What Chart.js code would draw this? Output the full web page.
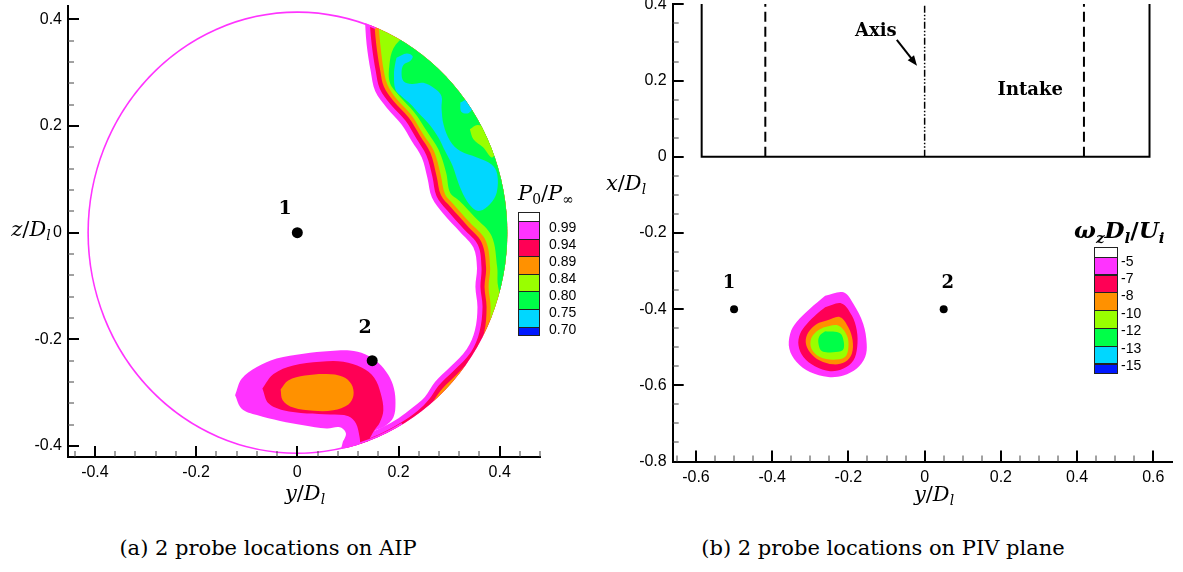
<!DOCTYPE html>
<html><head><meta charset="utf-8">
<script src="https://cdn.jsdelivr.net/npm/chart.js@4.4.1/dist/chart.umd.min.js"></script>
<style>
html,body{margin:0;padding:0;background:#fff}
body{width:1183px;height:572px;position:relative;overflow:hidden}
canvas{position:absolute;top:0}
.t{position:absolute;white-space:nowrap;color:#000;line-height:1}
.c{transform:translate(-50%,-50%)}
.m{font-family:"DejaVu Serif",serif;font-size:21px}
.m i{font-style:italic}
.m sub{font-size:66%;vertical-align:-0.32em;line-height:0}
.w{font-family:"DejaVu Serif",serif;font-size:23px;font-weight:bold}
.w i{font-style:italic}
.w sub{font-size:66%;vertical-align:-0.32em;line-height:0}
.cap{font-family:"DejaVu Serif",serif;font-size:21px}
.lab{font-family:"Liberation Sans",Arial,sans-serif;font-size:14px;transform:translateY(-50%)}
.box{position:absolute;box-sizing:border-box;border:1px solid #222}
</style></head>
<body>
<canvas id="aip" width="560" height="500" style="left:0"></canvas>
<canvas id="piv" width="593" height="500" style="left:590px"></canvas>
<div id="ov"></div>
<script>
// ---------------- DATA ----------------
const AIP_Y_TICKS = [-0.4, -0.2, 0, 0.2, 0.4];
const AIP_Y_LABELS = ['-0.4', '-0.2', '0', '0.2', '0.4'];
const AIP_Z_TICKS = [-0.4, -0.2, 0, 0.2, 0.4];
const AIP_Z_LABELS = ['-0.4', '-0.2', '0', '0.2', '0.4'];
const AIP_Y_MINOR = [-0.44, -0.36, -0.32, -0.28, -0.24, -0.16, -0.12, -0.08, -0.04, 0.04, 0.08, 0.12, 0.16, 0.24, 0.28, 0.32, 0.36, 0.44, 0.48];
const AIP_Z_MINOR = [-0.36, -0.32, -0.28, -0.24, -0.16, -0.12, -0.08, -0.04, 0.04, 0.08, 0.12, 0.16, 0.24, 0.28, 0.32, 0.36];

const PIV_Y_TICKS = [-0.6, -0.4, -0.2, 0, 0.2, 0.4, 0.6];
const PIV_Y_LABELS = ['-0.6', '-0.4', '-0.2', '0', '0.2', '0.4', '0.6'];
const PIV_X_TICKS = [-0.8, -0.6, -0.4, -0.2, 0, 0.2, 0.4];
const PIV_X_LABELS = ['-0.8', '-0.6', '-0.4', '-0.2', '0', '0.2', '0.4'];
const PIV_Y_MINOR = [-0.65, -0.55, -0.5, -0.45, -0.35, -0.3, -0.25, -0.15, -0.1, -0.05, 0.05, 0.1, 0.15, 0.25, 0.3, 0.35, 0.45, 0.5, 0.55];
const PIV_X_MINOR = [-0.75, -0.7, -0.65, -0.55, -0.5, -0.45, -0.35, -0.3, -0.25, -0.15, -0.1, -0.05, 0.05, 0.1, 0.15, 0.25, 0.3, 0.35];

const P0_LEVELS = ['0.99', '0.94', '0.89', '0.84', '0.80', '0.75', '0.70'];
const OMEGA_LEVELS = ['-5', '-7', '-8', '-10', '-12', '-13', '-15'];
const LEVEL_COLORS = ['#ffffff', '#ff33ff', '#ff0055', '#ff9100', '#99ff00', '#00ff48', '#00d7ff', '#0018ff'];

const WALL_R = 0.415;               // AIP duct wall radius (y/Dl units)
const WALL_ARC_DEG = [68, 300];     // part of wall edge seen as a thin P0/Pinf=0.99 band

// AIP contour regions (y, z), each region = values below the level
const AIP_LE_099 = [[0.133,0.409],[0.137,0.353],[0.145,0.303],[0.154,0.265],[0.177,0.234],[0.206,0.203],[0.226,0.172],[0.246,0.141],[0.257,0.103],[0.266,0.066],[0.289,0.035],[0.322,0.001],[0.348,-0.028],[0.355,-0.065],[0.352,-0.102],[0.356,-0.140],[0.351,-0.183],[0.335,-0.218],[0.302,-0.252],[0.272,-0.280],[0.252,-0.308],[0.228,-0.328],[0.200,-0.348],[0.170,-0.364],[0.140,-0.376],[0.112,-0.385],[0.090,-0.392],[0.090,-0.47],[0.47,-0.47],[0.47,0.45],[0.133,0.45]];
const AIP_LE_094 = [[0.142,0.409],[0.147,0.353],[0.155,0.303],[0.163,0.270],[0.184,0.241],[0.214,0.210],[0.235,0.177],[0.255,0.145],[0.267,0.105],[0.275,0.069],[0.296,0.042],[0.329,0.007],[0.357,-0.023],[0.364,-0.065],[0.362,-0.102],[0.366,-0.140],[0.360,-0.186],[0.343,-0.224],[0.309,-0.259],[0.279,-0.287],[0.260,-0.313],[0.238,-0.334],[0.205,-0.356],[0.175,-0.372],[0.145,-0.385],[0.115,-0.395],[0.095,-0.400],[0.095,-0.47],[0.47,-0.47],[0.47,0.45],[0.142,0.45]];
const AIP_LE_089 = [[0.151,0.409],[0.156,0.353],[0.164,0.303],[0.171,0.274],[0.190,0.247],[0.220,0.216],[0.243,0.181],[0.263,0.150],[0.275,0.107],[0.284,0.070],[0.303,0.048],[0.335,0.014],[0.364,-0.018],[0.373,-0.065],[0.370,-0.102],[0.374,-0.140],[0.369,-0.188],[0.350,-0.229],[0.316,-0.265],[0.286,-0.293],[0.268,-0.318],[0.254,-0.348],[0.254,-0.47],[0.47,-0.47],[0.47,0.45],[0.151,0.45]];
const AIP_LE_084 = [[0.159,0.409],[0.164,0.353],[0.171,0.303],[0.178,0.278],[0.195,0.252],[0.225,0.221],[0.249,0.184],[0.270,0.153],[0.283,0.110],[0.292,0.072],[0.308,0.054],[0.341,0.019],[0.372,-0.014],[0.381,-0.065],[0.378,-0.102],[0.382,-0.140],[0.377,-0.190],[0.357,-0.233],[0.322,-0.270],[0.292,-0.299],[0.292,-0.47],[0.47,-0.47],[0.47,0.45],[0.159,0.45]];
const AIP_LE_080 = [[0.213,0.371],[0.190,0.346],[0.182,0.315],[0.183,0.281],[0.202,0.256],[0.231,0.226],[0.257,0.189],[0.279,0.156],[0.294,0.113],[0.302,0.075],[0.320,0.060],[0.351,0.029],[0.384,-0.006],[0.395,-0.065],[0.397,-0.102],[0.411,-0.130],[0.47,-0.13],[0.47,0.45],[0.213,0.45]];
const AIP_LIME_PATCH = [[0.341,0.194],[0.356,0.202],[0.374,0.194],[0.386,0.172],[0.391,0.150],[0.384,0.141],[0.367,0.160],[0.348,0.175]];
const AIP_LE_075 = [[0.196,0.328],[0.216,0.336],[0.228,0.331],[0.223,0.322],[0.210,0.315],[0.206,0.300],[0.210,0.284],[0.226,0.279],[0.249,0.281],[0.272,0.270],[0.285,0.256],[0.285,0.234],[0.289,0.203],[0.302,0.172],[0.322,0.153],[0.355,0.141],[0.384,0.128],[0.395,0.110],[0.394,0.075],[0.381,0.054],[0.361,0.041],[0.347,0.046],[0.331,0.066],[0.318,0.094],[0.307,0.125],[0.292,0.153],[0.279,0.178],[0.261,0.203],[0.239,0.225],[0.224,0.241],[0.207,0.255],[0.194,0.268],[0.191,0.297],[0.193,0.315]];
const AIP_LE_075_SMALL = [[0.322,0.244],[0.338,0.250],[0.347,0.236],[0.338,0.224],[0.324,0.227]];
const AIP_VORTEX_099 = [[-0.123,-0.305],[-0.110,-0.274],[-0.080,-0.252],[-0.041,-0.236],[0.012,-0.227],[0.065,-0.222],[0.104,-0.221],[0.134,-0.228],[0.160,-0.244],[0.180,-0.267],[0.191,-0.292],[0.194,-0.320],[0.190,-0.346],[0.173,-0.363],[0.154,-0.371],[0.137,-0.383],[0.127,-0.401],[0.101,-0.411],[0.091,-0.395],[0.096,-0.376],[0.084,-0.365],[0.058,-0.367],[0.012,-0.361],[-0.034,-0.353],[-0.080,-0.342],[-0.110,-0.330]];
const AIP_VORTEX_094 = [[-0.069,-0.292],[-0.047,-0.265],[-0.008,-0.249],[0.045,-0.242],[0.091,-0.242],[0.127,-0.253],[0.152,-0.272],[0.165,-0.302],[0.170,-0.333],[0.163,-0.356],[0.152,-0.371],[0.142,-0.389],[0.137,-0.408],[0.127,-0.408],[0.123,-0.383],[0.116,-0.358],[0.101,-0.344],[0.065,-0.341],[0.019,-0.339],[-0.028,-0.333],[-0.057,-0.320]];
const AIP_VORTEX_089 = [[-0.033,-0.294],[-0.018,-0.277],[0.015,-0.268],[0.058,-0.265],[0.090,-0.270],[0.107,-0.284],[0.111,-0.305],[0.101,-0.322],[0.071,-0.333],[0.032,-0.334],[-0.008,-0.328],[-0.029,-0.314]];
const AIP_PROBE_Y = [0, 0.148];
const AIP_PROBE_Z = [0, -0.24];
const AIP_PROBE_NAMES = ['1', '2'];
const AIP_NAME_Y = [-0.024, 0.134];
const AIP_NAME_Z = [0.045, -0.178];

// PIV plane vortex contours (y, x), each region = vorticity below the level
const PIV_LE_M5 = [[-0.261,-0.365],[-0.213,-0.356],[-0.187,-0.386],[-0.161,-0.439],[-0.152,-0.491],[-0.156,-0.526],[-0.178,-0.556],[-0.213,-0.574],[-0.253,-0.578],[-0.301,-0.565],[-0.336,-0.539],[-0.355,-0.504],[-0.353,-0.465],[-0.336,-0.434],[-0.301,-0.399]];
const PIV_LE_M7 = [[-0.261,-0.395],[-0.218,-0.385],[-0.191,-0.417],[-0.178,-0.456],[-0.177,-0.500],[-0.187,-0.535],[-0.213,-0.556],[-0.248,-0.563],[-0.288,-0.550],[-0.318,-0.526],[-0.331,-0.495],[-0.327,-0.465],[-0.309,-0.439],[-0.283,-0.413]];
const PIV_LE_M8 = [[-0.257,-0.430],[-0.222,-0.421],[-0.200,-0.448],[-0.189,-0.482],[-0.191,-0.517],[-0.209,-0.539],[-0.240,-0.545],[-0.275,-0.535],[-0.301,-0.513],[-0.312,-0.487],[-0.305,-0.461],[-0.283,-0.439]];
const PIV_LE_M10 = [[-0.266,-0.448],[-0.227,-0.443],[-0.204,-0.469],[-0.200,-0.500],[-0.209,-0.526],[-0.240,-0.533],[-0.275,-0.526],[-0.297,-0.504],[-0.298,-0.478],[-0.283,-0.458]];
const PIV_LE_M12 = [[-0.261,-0.458],[-0.222,-0.463],[-0.212,-0.487],[-0.215,-0.508],[-0.240,-0.513],[-0.270,-0.510],[-0.279,-0.487],[-0.275,-0.469]];
const PIV_PROBE_Y = [-0.5, 0.05];
const PIV_PROBE_X = [-0.4, -0.4];
const PIV_PROBE_NAMES = ['1', '2'];
const PIV_NAME_Y = [-0.513, 0.061];
const PIV_NAME_X = [-0.333, -0.333];
const INTAKE_WALL = [[-0.585,0.45],[-0.585,0],[0.59,0],[0.59,0.45]];
const INTAKE_LIP_L = [[-0.418,0],[-0.418,0.45]];
const INTAKE_LIP_R = [[0.418,0],[0.418,0.45]];
const INTAKE_AXIS = [[0,0],[0,0.45]];
const PIV_NOTES = [{text:'Axis', y:-0.128, x:0.328}, {text:'Intake', y:0.277, x:0.174}];
const AXIS_ARROW = [[-0.073,0.307],[-0.020,0.239]];

// ---------------- HELPERS ----------------
Chart.defaults.font.family = '"Liberation Sans", Arial, sans-serif';
const pts = a => a.map(p => ({x: p[0], y: p[1]}));
const loop = a => a.concat([a[0]]);
function region(arr, color, order, tension) {
  return {type: 'scatter', data: pts(arr), showLine: true, fill: 'shape', backgroundColor: color,
    borderColor: 'rgba(0,0,0,0)', borderWidth: 0, pointRadius: 0, pointHoverRadius: 0,
    tension: tension === undefined ? 0.35 : tension, order: order};
}
function line(arr, width, dash, order) {
  return {type: 'scatter', data: pts(arr), showLine: true, fill: false, borderColor: '#000',
    borderWidth: width, borderDash: dash, pointRadius: 0, tension: 0, order: order};
}
function tickAxis(min, max, ticks, labels, fitSize, isX, pad) {
  return {type: 'linear', min: min, max: max, bounds: 'data',
    afterBuildTicks: s => { s.ticks = ticks.map(v => ({value: v})); },
    ticks: {callback: (v, i) => labels[i], padding: pad, color: '#000', autoSkip: false, maxRotation: 0,
      font: {family: '"Liberation Sans", Arial, sans-serif', size: 16}},
    grid: {drawOnChartArea: false, drawTicks: false},
    border: {display: true, color: '#000', width: 2},
    afterFit: s => { if (isX) { s.height = fitSize; s.paddingLeft = 0; s.paddingRight = 0; }
                     else { s.width = fitSize; s.paddingTop = 0; s.paddingBottom = 0; } }};
}
function tickMarks(xMajor, xMinor, yMajor, yMinor) {
  return {id: 'tickMarks', afterDraw(chart) {
    const ctx = chart.ctx, a = chart.chartArea, sx = chart.scales.x, sy = chart.scales.y;
    ctx.save(); ctx.strokeStyle = '#000';
    const draw = (vals, len, w, isX) => {
      ctx.lineWidth = w; ctx.beginPath();
      vals.forEach(v => {
        if (isX) { const p = Math.round(sx.getPixelForValue(v)); ctx.moveTo(p, a.bottom); ctx.lineTo(p, a.bottom - len); }
        else { const p = Math.round(sy.getPixelForValue(v)); ctx.moveTo(a.left, p); ctx.lineTo(a.left + len, p); }
      });
      ctx.stroke();
    };
    draw(xMajor, 11, 2, true); draw(yMajor, 11, 2, false);
    ctx.strokeStyle = '#444';
    draw(xMinor, 6, 1, true); draw(yMinor, 6, 1, false);
    ctx.restore();
  }};
}
function notes(items, font, arrow) {
  return {id: 'notes', afterDraw(chart) {
    const ctx = chart.ctx, sx = chart.scales.x, sy = chart.scales.y;
    ctx.save(); ctx.fillStyle = '#000'; ctx.textAlign = 'center'; ctx.textBaseline = 'middle'; ctx.font = font;
    items.forEach(it => ctx.fillText(it.text, sx.getPixelForValue(it.y), sy.getPixelForValue(it.x)));
    if (arrow) {
      const x1 = sx.getPixelForValue(arrow[0][0]), y1 = sy.getPixelForValue(arrow[0][1]);
      const x2 = sx.getPixelForValue(arrow[1][0]), y2 = sy.getPixelForValue(arrow[1][1]);
      const ang = Math.atan2(y2 - y1, x2 - x1), L = 10, W = 4;
      ctx.strokeStyle = '#000'; ctx.lineWidth = 2;
      ctx.beginPath(); ctx.moveTo(x1, y1); ctx.lineTo(x2 - L * Math.cos(ang) * 0.6, y2 - L * Math.sin(ang) * 0.6); ctx.stroke();
      ctx.beginPath(); ctx.moveTo(x2, y2);
      ctx.lineTo(x2 - L * Math.cos(ang) + W * Math.sin(ang), y2 - L * Math.sin(ang) - W * Math.cos(ang));
      ctx.lineTo(x2 - L * Math.cos(ang) - W * Math.sin(ang), y2 - L * Math.sin(ang) + W * Math.cos(ang));
      ctx.closePath(); ctx.fill();
    }
    ctx.restore();
  }};
}
const wallPlugin = {id: 'wall',
  geom(chart) {
    const sx = chart.scales.x, sy = chart.scales.y;
    const cx = sx.getPixelForValue(0), cy = sy.getPixelForValue(0);
    return {cx, cy, rx: Math.abs(sx.getPixelForValue(WALL_R) - cx), ry: Math.abs(sy.getPixelForValue(WALL_R) - cy)};
  },
  beforeDatasetsDraw(chart) {
    const g = this.geom(chart), ctx = chart.ctx;
    ctx.save(); ctx.beginPath(); ctx.ellipse(g.cx, g.cy, g.rx, g.ry, 0, 0, Math.PI * 2); ctx.clip();
  },
  afterDatasetsDraw(chart) {
    const g = this.geom(chart), ctx = chart.ctx;
    ctx.strokeStyle = LEVEL_COLORS[1]; ctx.lineWidth = 3.2;
    ctx.beginPath();
    ctx.ellipse(g.cx, g.cy, g.rx, g.ry, 0, -WALL_ARC_DEG[0] * Math.PI / 180, -WALL_ARC_DEG[1] * Math.PI / 180, true);
    ctx.stroke();
    ctx.restore();
  }
};

// ---------------- AIP CHART ----------------
new Chart(document.getElementById('aip'), {
  type: 'scatter',
  data: {datasets: [
    region(AIP_LE_099, LEVEL_COLORS[1], 20),
    region(AIP_LE_094, LEVEL_COLORS[2], 19),
    region(AIP_LE_089, LEVEL_COLORS[3], 18),
    region(AIP_LE_084, LEVEL_COLORS[4], 17),
    region(AIP_LE_080, LEVEL_COLORS[5], 16),
    region(loop(AIP_LIME_PATCH), LEVEL_COLORS[4], 15),
    region(loop(AIP_LE_075), LEVEL_COLORS[6], 14),
    region(loop(AIP_LE_075_SMALL), LEVEL_COLORS[6], 13),
    region(loop(AIP_VORTEX_099), LEVEL_COLORS[1], 12),
    region(loop(AIP_VORTEX_094), LEVEL_COLORS[2], 11),
    region(loop(AIP_VORTEX_089), LEVEL_COLORS[3], 10),
    {type: 'scatter', data: AIP_PROBE_Y.map((v, i) => ({x: v, y: AIP_PROBE_Z[i]})), backgroundColor: '#000',
      borderWidth: 0, pointRadius: 5.5, pointHoverRadius: 5.5, order: 0}
  ]},
  options: {
    responsive: false, animation: false, events: [],
    layout: {padding: {left: 0, top: 4, right: 19.3, bottom: 0}},
    plugins: {legend: {display: false}, tooltip: {enabled: false}},
    scales: {
      x: tickAxis(-0.4532, 0.481, AIP_Y_TICKS, AIP_Y_LABELS, 43, true, 6),
      y: tickAxis(-0.4206, 0.426, AIP_Z_TICKS, AIP_Z_LABELS, 68, false, 6)
    }
  },
  plugins: [wallPlugin, tickMarks(AIP_Y_TICKS, AIP_Y_MINOR, AIP_Z_TICKS, AIP_Z_MINOR),
    notes(AIP_PROBE_NAMES.map((t, i) => ({text: t, y: AIP_NAME_Y[i], x: AIP_NAME_Z[i]})), 'bold 19px "DejaVu Serif", serif')]
});

// ---------------- PIV CHART ----------------
new Chart(document.getElementById('piv'), {
  type: 'scatter',
  data: {datasets: [
    line(INTAKE_WALL, 2, [], 1),
    line(INTAKE_LIP_L, 2, [10, 5], 1),
    line(INTAKE_LIP_R, 2, [10, 5], 1),
    line(INTAKE_AXIS, 1.5, [7, 2, 1.5, 2, 1.5, 2], 1),
    region(loop(PIV_LE_M5), LEVEL_COLORS[1], 10),
    region(loop(PIV_LE_M7), LEVEL_COLORS[2], 9),
    region(loop(PIV_LE_M8), LEVEL_COLORS[3], 8),
    region(loop(PIV_LE_M10), LEVEL_COLORS[4], 7),
    region(loop(PIV_LE_M12), LEVEL_COLORS[5], 6),
    {type: 'scatter', data: PIV_PROBE_Y.map((v, i) => ({x: v, y: PIV_PROBE_X[i]})), backgroundColor: '#000',
      borderWidth: 0, pointRadius: 4, pointHoverRadius: 4, order: 0}
  ]},
  options: {
    responsive: false, animation: false, events: [],
    layout: {padding: {left: 0, top: 2, right: 11, bottom: 0}},
    plugins: {legend: {display: false}, tooltip: {enabled: false}},
    scales: {
      x: tickAxis(-0.661, 0.649, PIV_Y_TICKS, PIV_Y_LABELS, 38.5, true, 6),
      y: tickAxis(-0.8, 0.401, PIV_X_TICKS, PIV_X_LABELS, 82.7, false, 6)
    }
  },
  plugins: [tickMarks(PIV_Y_TICKS, PIV_Y_MINOR, PIV_X_TICKS, PIV_X_MINOR),
    notes(PIV_PROBE_NAMES.map((t, i) => ({text: t, y: PIV_NAME_Y[i], x: PIV_NAME_X[i]})).concat(PIV_NOTES),
      'bold 18px "DejaVu Serif", serif', AXIS_ARROW)]
});

// ---------------- TEXT + COLOUR BARS ----------------
const ov = document.getElementById('ov');
function add(html, cls, left, top) {
  const d = document.createElement('div');
  d.className = 't ' + cls; d.style.left = left + 'px'; d.style.top = top + 'px'; d.innerHTML = html;
  ov.appendChild(d); return d;
}
const yD = '<i>y</i>/<i>D</i><sub><i>l</i></sub>';
add(yD, 'm c', 305, 493);
add(yD, 'm c', 934, 494);
add('<i>z</i>/<i>D</i><sub><i>l</i></sub>', 'm c', 31, 229);
add('<i>x</i>/<i>D</i><sub><i>l</i></sub>', 'm c', 626, 183);
add('<i>P</i><sub>0</sub>/<i>P</i><sub>∞</sub>', 'm', 518, 183);
add('<i>ω</i><sub><i>z</i></sub><i>D</i><sub><i>l</i></sub>/<i>U</i><sub><i>i</i></sub>', 'w', 1074, 218);
add('(a) 2 probe locations on AIP', 'cap c', 268, 548);
add('(b) 2 probe locations on PIV plane', 'cap c', 883, 548);

function colourBar(left, top, width, heights, labels, labelLeft, labelTop, labelStep) {
  let y = top;
  heights.forEach((h, i) => {
    const b = document.createElement('div');
    b.className = 'box';
    Object.assign(b.style, {left: left + 'px', top: y + 'px', width: width + 'px', height: (h + 1) + 'px', background: LEVEL_COLORS[i]});
    ov.appendChild(b); y += h;
  });
  labels.forEach((t, i) => add(t, 'lab', labelLeft, labelTop + i * labelStep));
}
colourBar(518.3, 211.7, 21.4, [9.3, 17.6, 17.6, 17.6, 17.6, 17.6, 17.6, 8.3], P0_LEVELS, 549, 227, 17.05);
colourBar(1094.3, 247.3, 23.4, [9.4, 17.8, 17.8, 17.8, 17.8, 17.8, 17.8, 9], OMEGA_LEVELS, 1121, 260.5, 17.4);
</script>
</body></html>
